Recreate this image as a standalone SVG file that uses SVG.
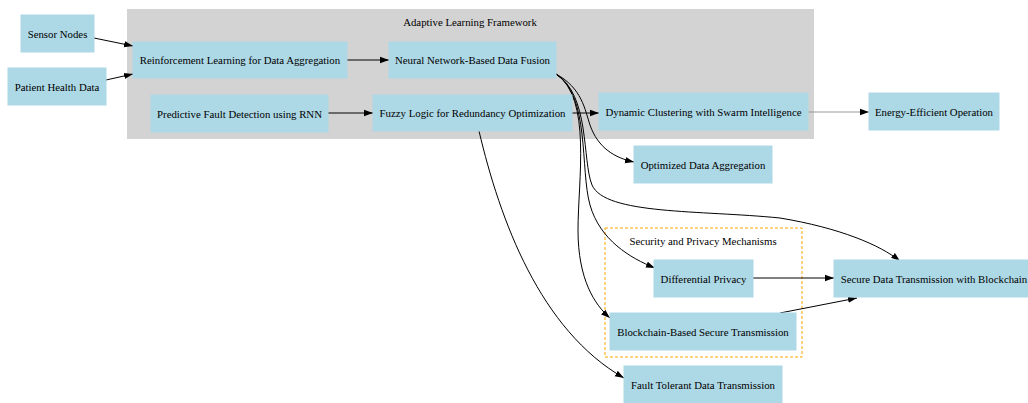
<svg xmlns="http://www.w3.org/2000/svg" width="1028" height="403" viewBox="0 0 1028 403">
<style>
.n{fill:#ADD8E6;stroke:#ADD8E6}
.t{font-family:"Liberation Serif","Times New Roman",serif;font-size:10.8px;fill:#000;text-anchor:middle;dominant-baseline:central}
.e{fill:none;stroke:#000;stroke-width:1}
</style>
<defs>
<marker id="ah" viewBox="0 0 10 10" refX="10" refY="5" markerWidth="9" markerHeight="9" markerUnits="userSpaceOnUse" orient="auto">
<path d="M0,1.5 L10,5 L0,8.5 Z" fill="#000"/>
</marker>
</defs>
<rect width="1028" height="403" fill="#fff"/>
<g id="cluster-adaptive">
<rect x="127" y="9" width="687" height="130" fill="#D3D3D3"/>
<text class="t" x="470" y="22">Adaptive Learning Framework</text>
</g>
<g id="cluster-security">
<rect x="605" y="228" width="197" height="129" fill="#fff" stroke="#FFA500" stroke-dasharray="3,2"/>
<text class="t" x="703" y="241">Security and Privacy Mechanisms</text>
</g>
<g id="edges">
<path class="e" d="M94,38 L133,46" marker-end="url(#ah)"/>
<path class="e" d="M106,80 L133,74" marker-end="url(#ah)"/>
<path class="e" d="M347,60 L389,60" marker-end="url(#ah)"/>
<path class="e" d="M328,113 L373,113" marker-end="url(#ah)"/>
<path class="e" d="M572,113 L599,113" marker-end="url(#ah)"/>
<path class="e" d="M808,112 L869,112" marker-end="url(#ah)" style="stroke:#999"/>
<path class="e" d="M556,74 C582,88 585,110 590,125 C598,148 615,158 634,162" marker-end="url(#ah)"/>
<path class="e" d="M556,74 C590,95 582,160 592,185 C605,215 700,210 780,218 C840,228 880,245 900,261" marker-end="url(#ah)"/>
<path class="e" d="M556,74 C590,95 580,170 590,205 C600,240 630,258 655,268" marker-end="url(#ah)"/>
<path class="e" d="M556,74 C592,98 578,180 578,230 C578,280 595,305 610,318" marker-end="url(#ah)"/>
<path class="e" d="M479,131 C500,220 540,330 624,378" marker-end="url(#ah)"/>
<path class="e" d="M753,278 L834,278" marker-end="url(#ah)"/>
<path class="e" d="M780,313 L857,298" marker-end="url(#ah)"/>
</g>
<g id="sensor-nodes"><rect class="n" x="21" y="15" width="73" height="37"/><text class="t" x="57.5" y="33.5">Sensor Nodes</text></g>
<g id="patient-health-data"><rect class="n" x="8" y="68" width="98" height="37"/><text class="t" x="57" y="86.5">Patient Health Data</text></g>
<g id="reinforcement-learning"><rect class="n" x="133" y="42" width="214" height="36"/><text class="t" x="240" y="60">Reinforcement Learning for Data Aggregation</text></g>
<g id="predictive-fault"><rect class="n" x="151" y="95" width="177" height="37"/><text class="t" x="239.5" y="113.5">Predictive Fault Detection using RNN</text></g>
<g id="neural-network"><rect class="n" x="389" y="42" width="167" height="36"/><text class="t" x="472.5" y="60">Neural Network-Based Data Fusion</text></g>
<g id="fuzzy-logic"><rect class="n" x="373" y="95" width="199" height="36"/><text class="t" x="472.5" y="113">Fuzzy Logic for Redundancy Optimization</text></g>
<g id="dynamic-clustering"><rect class="n" x="599" y="93" width="209" height="37"/><text class="t" x="703.5" y="111.5">Dynamic Clustering with Swarm Intelligence</text></g>
<g id="energy-efficient"><rect class="n" x="869" y="93" width="130" height="37"/><text class="t" x="934" y="111.5">Energy-Efficient Operation</text></g>
<g id="optimized-data-aggregation"><rect class="n" x="634" y="146" width="138" height="37"/><text class="t" x="703" y="164.5">Optimized Data Aggregation</text></g>
<g id="differential-privacy"><rect class="n" x="654" y="260" width="99" height="37"/><text class="t" x="703.5" y="278.5">Differential Privacy</text></g>
<g id="blockchain-based"><rect class="n" x="610" y="313" width="186" height="37"/><text class="t" x="703" y="331.5">Blockchain-Based Secure Transmission</text></g>
<g id="secure-data-transmission"><rect class="n" x="834" y="260" width="196" height="37"/><text class="t" x="934" y="278.5">Secure Data Transmission with Blockchain</text></g>
<g id="fault-tolerant"><rect class="n" x="624" y="366" width="158" height="37"/><text class="t" x="703" y="384.5">Fault Tolerant Data Transmission</text></g>
</svg>
